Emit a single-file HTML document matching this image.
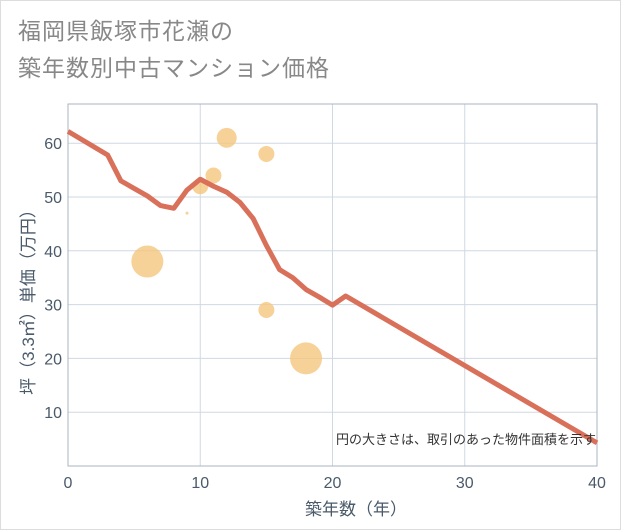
<!DOCTYPE html>
<html><head><meta charset="utf-8">
<style>
body{margin:0;background:#fff;}
#wrap{position:relative;width:619px;height:528px;border:1px solid #ddd;background:#fff;font-family:"Liberation Sans","Noto Sans CJK JP",sans-serif;}
#title{position:absolute;left:17px;top:12px;font-size:23px;line-height:37px;color:#888;letter-spacing:1px}
svg{position:absolute;left:0;top:0}
</style></head>
<body>
<div id="wrap">
<div id="title">福岡県飯塚市花瀬の<br>築年数別中古マンション価格</div>
<svg id="chart" width="621" height="530"></svg>
</div>
<script>
const lineYears=[0,3,4,5,6,7,8,9,10,11,12,13,14,15,16,17,18,19,20,21,40];
const linePrices=[62.2,57.8,53,51.6,50.2,48.4,47.9,51.3,53.3,52,50.9,49,46,41,36.5,35,32.8,31.4,29.9,31.6,4.3];
const bubbleYears=[6,9,10,11,12,15,15,18];
const bubblePrices=[38,47,52,54,61,58,29,20];
const bubbleSizes=[16,1.5,8,8,10,8,8,16];
const xTicks=[0,10,20,30,40];
const yTicks=[10,20,30,40,50,60];
const NS="http://www.w3.org/2000/svg";
const svg=document.getElementById('chart');
const L=67,R=596,T=103,B=465;
const xs=v=>L+(v/40)*(R-L);
const ys=v=>B-v*5.38;
function mk(t,a){const e=document.createElementNS(NS,t);for(const k in a)e.setAttribute(k,a[k]);svg.appendChild(e);return e;}
xTicks.forEach(t=>{
 const g=mk('line',{x1:xs(t),x2:xs(t),y1:T,y2:B,stroke:'#cfd8e3','stroke-width':1});
 
 
 const tx=mk('text',{x:xs(t),y:B+22,'text-anchor':'middle','font-size':16,fill:'#4a5a6a'});
 tx.textContent=t;
 
 
});
yTicks.forEach(t=>{
 const g=mk('line',{x1:L,x2:R,y1:ys(t),y2:ys(t),stroke:'#cfd8e3','stroke-width':1});
 
 
 const tx=mk('text',{x:L-6,y:ys(t)+6,'text-anchor':'end','font-size':16,fill:'#4a5a6a'});
 tx.textContent=t;
 
 
});
const fr=mk('rect',{x:L,y:T,width:R-L,height:B-T,fill:'none',stroke:'#aab4c0','stroke-width':1});


bubbleYears.forEach((v,i)=>{
 const c=mk('circle',{cx:xs(v),cy:ys(bubblePrices[i]),r:bubbleSizes[i],fill:'#f5c77e','fill-opacity':0.8});
 
 
});
const p=mk('polyline',{points:lineYears.map((v,i)=>xs(v)+','+ys(linePrices[i])).join(' '),fill:'none',stroke:'#d9705a','stroke-width':5,'stroke-linejoin':'round'});


const note=mk('text',{x:595,y:443,'text-anchor':'end','font-size':13,fill:'#333'});
note.textContent='円の大きさは、取引のあった物件面積を示す';


const xt=mk('text',{x:355,y:514,'text-anchor':'middle','font-size':17,fill:'#4a5a6a'});
xt.textContent='築年数（年）';


const yt=mk('text',{x:0,y:0,'text-anchor':'middle','font-size':17,fill:'#4a5a6a',transform:'translate(33,297) rotate(-90)'});
yt.textContent='坪（3.3㎡）単価（万円）';


</script>
</body></html>
